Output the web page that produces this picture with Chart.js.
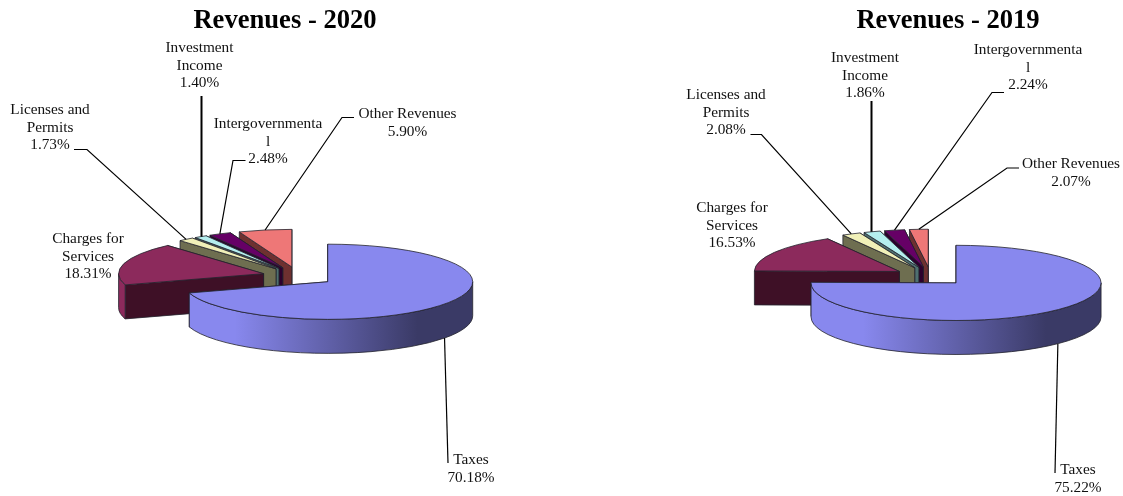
<!DOCTYPE html>
<html>
<head>
<meta charset="utf-8">
<title>Revenues</title>
<script src="https://cdn.jsdelivr.net/npm/chart.js@4"></script>
<style>
  html, body { margin: 0; padding: 0; background: #fff; overflow: hidden; }
  #stage { position: relative; width: 1123px; height: 496px; }
  canvas { position: absolute; top: 0; }
</style>
</head>
<body>
<div id="stage">
  <canvas id="pie2020"></canvas>
  <canvas id="pie2019"></canvas>
</div>
<script>
// Revenue shares in percent
const categories = ['Taxes', 'Charges for Services', 'Licenses and Permits', 'Investment Income', 'Intergovernmental', 'Other Revenues'];
const values2020 = [70.18, 18.31, 1.73, 1.40, 2.48, 5.90];
const values2019 = [75.22, 16.53, 2.08, 1.86, 2.24, 2.07];

// Wrapped label text for each category
const labelLines = [['Taxes'], ['Charges for', 'Services'], ['Licenses and', 'Permits'], ['Investment', 'Income'], ['Intergovernmenta', 'l'], ['Other Revenues']];

// Face colours and the darker tone of the cut walls
const topColors = ['#8888ee', '#8c2a5c', '#f0f0b8', '#b5efef', '#660066', '#ee7777'];
const wallColors = ['#3a3a66', '#3e1026', '#6e6e50', '#4f7070', '#2d002d', '#6e3030'];

// Tilted-disc geometry shared by both pies
const DISC_RADIUS = 145;
const TILT = 37.6 / 145;
const DEPTH = 34;
const EXPLODE = 0.25;
const SERIF = '"Liberation Serif", "Times New Roman", serif';

// Label anchors (centre x, first baseline) and leader elbows in page pixels
const layout2020 = {
  originX: 0, width: 600, cx: 298.5, cy: 276.2, title: 'Revenues - 2020', titleX: 285, titleY: 27.5,
  values: values2020,
  labels: [[471, 464], [88, 243], [50, 114], [199.5, 52], [268, 128], [407.5, 118]],
  leaders: [[[448, 463]], null, [[87, 149.5], [74, 149.5]], [[201.5, 96]], [[233, 160.5], [245.5, 160.5]], [[342, 117.5], [354, 117.5]]]
};
const layout2019 = {
  originX: 600, width: 523, cx: 930.6, cy: 276.2, title: 'Revenues - 2019', titleX: 948, titleY: 27.5,
  values: values2019,
  labels: [[1078, 474], [732, 212], [726, 99], [865, 62], [1028, 54], [1071, 168]],
  leaders: [[[1055, 473]], null, [[761.5, 134.5], [750.5, 134.5]], [[871.5, 101]], [[992, 92.5], [1004, 92.5]], [[1007, 168], [1019, 168]]]
};

// Extruded, exploded pie painted from the arc geometry of the pie controller
const tiltedPie = {
  id: 'tiltedPie',
  beforeDatasetsDraw(chart, args, opts) {
    const ctx = chart.ctx;
    const arcs = chart.getDatasetMeta(0).data;
    const edge = 'rgba(35,35,45,0.8)';

    for (let i = arcs.length - 1; i >= 0; i--) {
      const a = arcs[i];
      const R = a.outerRadius;
      const mid = (a.startAngle + a.endAngle) / 2;
      const ox = a.x + EXPLODE * R * Math.cos(mid);
      const oy = a.y + EXPLODE * R * Math.sin(mid) * TILT;
      const ry = R * TILT;
      const rimX = t => ox + R * Math.cos(t);
      const rimY = t => oy + ry * Math.sin(t);

      ctx.save();
      ctx.lineWidth = 1;
      ctx.lineJoin = 'round';
      ctx.strokeStyle = edge;

      // radial walls, rear one first
      const walls = [a.startAngle, a.endAngle].sort((p, q) => rimY(p) - rimY(q));
      walls.forEach(t => {
        ctx.beginPath();
        ctx.moveTo(ox, oy);
        ctx.lineTo(rimX(t), rimY(t));
        ctx.lineTo(rimX(t), rimY(t) + DEPTH);
        ctx.lineTo(ox, oy + DEPTH);
        ctx.closePath();
        ctx.fillStyle = wallColors[i];
        ctx.fill();
        ctx.stroke();
      });

      // front part of the curved rim, shaded from left to right
      const from = Math.max(a.startAngle, 0);
      const to = Math.min(a.endAngle, Math.PI);
      if (to > from) {
        const shade = ctx.createLinearGradient(ox - R, 0, ox + R, 0);
        shade.addColorStop(0, topColors[i]);
        shade.addColorStop(0.18, topColors[i]);
        shade.addColorStop(0.81, wallColors[i]);
        shade.addColorStop(1, wallColors[i]);
        ctx.beginPath();
        ctx.ellipse(ox, oy, R, ry, 0, from, to);
        ctx.lineTo(rimX(to), rimY(to) + DEPTH);
        ctx.ellipse(ox, oy + DEPTH, R, ry, 0, to, from, true);
        ctx.closePath();
        ctx.fillStyle = shade;
        ctx.fill();
        ctx.stroke();
      }

      // top face
      ctx.beginPath();
      ctx.moveTo(ox, oy);
      ctx.ellipse(ox, oy, R, ry, 0, a.startAngle, a.endAngle);
      ctx.closePath();
      ctx.fillStyle = topColors[i];
      ctx.fill();
      ctx.stroke();
      ctx.restore();
    }
    return false;
  },
  afterDraw(chart, args, opts) {
    const ctx = chart.ctx;
    const page = opts.page;
    const arcs = chart.getDatasetMeta(0).data;
    const shift = page.originX;

    ctx.save();
    ctx.fillStyle = '#000';
    ctx.textAlign = 'center';
    ctx.textBaseline = 'alphabetic';

    ctx.font = 'bold 26.6px ' + SERIF;
    ctx.fillText(page.title, page.titleX - shift, page.titleY);

    // leader lines run from the rim of each slice to its label
    arcs.forEach((a, i) => {
      const elbows = page.leaders[i];
      if (!elbows) return;
      const R = a.outerRadius;
      const mid = (a.startAngle + a.endAngle) / 2;
      const heavy = categories[i] === 'Investment Income';
      const x = heavy ? elbows[0][0] - shift : a.x + (EXPLODE + 1) * R * Math.cos(mid);
      let y = a.y + (EXPLODE + 1) * R * Math.sin(mid) * TILT;
      if (Math.sin(mid) > 0) y += DEPTH;
      ctx.beginPath();
      ctx.moveTo(x, y);
      elbows.forEach(p => ctx.lineTo(p[0] - shift, p[1]));
      ctx.lineWidth = heavy ? 2 : 1.2;
      ctx.strokeStyle = '#000';
      ctx.stroke();
    });

    ctx.font = '15.3px ' + SERIF;
    ctx.fillStyle = '#111';
    arcs.forEach((a, i) => {
      const lines = labelLines[i].concat(page.values[i].toFixed(2) + '%');
      const [lx, ly] = page.labels[i];
      lines.forEach((t, n) => ctx.fillText(t, lx - shift, ly + n * 17.6));
    });
    ctx.restore();
  }
};

function buildPie(canvasId, page) {
  const canvas = document.getElementById(canvasId);
  canvas.style.left = page.originX + 'px';
  canvas.style.width = page.width + 'px';
  canvas.style.height = '496px';
  canvas.width = page.width;
  canvas.height = 496;
  const localX = page.cx - page.originX;
  return new Chart(canvas, {
    type: 'pie',
    data: {
      labels: categories,
      datasets: [{ data: page.values, backgroundColor: topColors, borderWidth: 0 }]
    },
    options: {
      responsive: false,
      animation: false,
      events: [],
      layout: {
        padding: {
          left: localX - DISC_RADIUS,
          right: page.width - localX - DISC_RADIUS,
          top: page.cy - DISC_RADIUS,
          bottom: 496 - page.cy - DISC_RADIUS
        }
      },
      plugins: {
        legend: { display: false },
        tooltip: { enabled: false },
        tiltedPie: { page: page }
      }
    },
    plugins: [tiltedPie]
  });
}

buildPie('pie2020', layout2020);
buildPie('pie2019', layout2019);
</script>
</body>
</html>
